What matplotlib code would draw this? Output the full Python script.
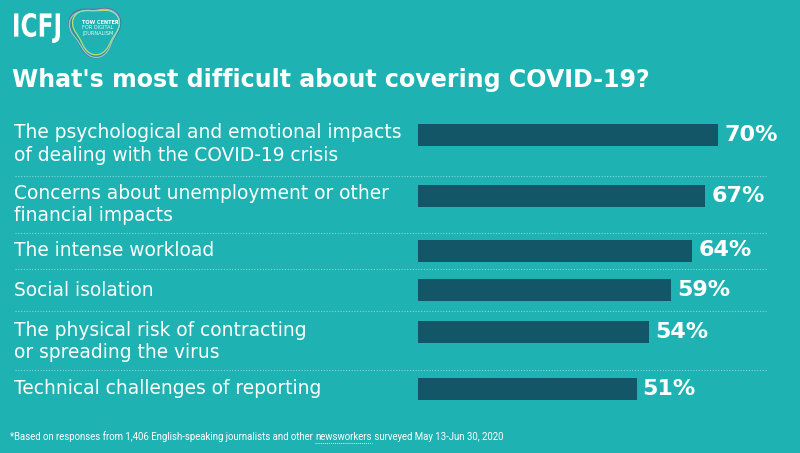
import matplotlib
matplotlib.use("Agg")
import matplotlib.pyplot as plt
from matplotlib.patches import PathPatch
from matplotlib.textpath import TextPath
from matplotlib.font_manager import FontProperties
from matplotlib.transforms import Affine2D
import numpy as np

# ---- data ----
categories = [
    "The psychological and emotional impacts\nof dealing with the COVID-19 crisis",
    "Concerns about unemployment or other\nfinancial impacts",
    "The intense workload",
    "Social isolation",
    "The physical risk of contracting\nor spreading the virus",
    "Technical challenges of reporting",
]
values = [70, 67, 64, 59, 54, 51]
value_labels = ["70%", "67%", "64%", "59%", "54%", "51%"]
title = "What's most difficult about covering COVID-19?"
footnote_pre = "*Based on responses from 1,406 English-speaking journalists and other "
footnote_link = "newsworkers"
footnote_post = " surveyed May 13-Jun 30, 2020"

# ---- layout (pixels) ----
W, H = 800, 453
BG = "#1fb2b2"
BAR = "#135668"
row_y = [135, 195.5, 250.5, 290, 332, 389]
sep_y = [176, 233, 269, 310.5, 370]
bar_left_px = 418
px_per_pct = 300 / 70.0
bar_h_px = 22

fig = plt.figure(figsize=(W / 100, H / 100), dpi=100, facecolor=BG)
base = fig.add_axes([0, 0, 1, 1])
base.set_xlim(0, W)
base.set_ylim(H, 0)
base.axis("off")
base.set_facecolor(BG)

# bar axes: x in percent, y in pixel rows
bx = fig.add_axes([bar_left_px / W, 0, (W - bar_left_px) / W, 1])
bx.set_xlim(0, (W - bar_left_px) / px_per_pct)
bx.set_ylim(H, 0)
bx.axis("off")
bx.patch.set_alpha(0)
bx.barh(row_y, values, height=bar_h_px, color=BAR, edgecolor="none")
for y, v, lab in zip(row_y, values, value_labels):
    bx.text(v + 1.4, y, lab, ha="left", va="center", color="white",
            fontsize=16, fontweight="bold", family="DejaVu Sans")

# separators
for y in sep_y:
    base.plot([15, 767], [y, y], color="#8fd8d8", lw=0.8, ls=(0, (1, 1.5)), alpha=0.9)

# labels
for y, lab in zip(row_y, categories):
    if "\n" in lab:
        base.text(14, y - 11.5, lab, ha="left", va="top", color="white",
                  fontsize=13.4, family="DejaVu Sans", linespacing=1.22)
    else:
        base.text(14, y, lab, ha="left", va="center", color="white",
                  fontsize=13.4, family="DejaVu Sans")

# title
base.text(12, 80, title, ha="left", va="center", color="white",
          fontsize=17.1, fontweight="bold", family="DejaVu Sans")

# footnote
FS = 6.9
fy = 437
t1 = base.text(10, fy, footnote_pre, ha="left", va="center", color="white",
               fontsize=FS, family="Roboto")
fig.canvas.draw()
r = fig.canvas.get_renderer()
bb = t1.get_window_extent(r)
t2 = fig.text(bb.x1 / W, 1 - fy / H, footnote_link, ha="left", va="center",
              color="white", fontsize=FS, family="Roboto")
bb2 = t2.get_window_extent(r)
fig.text(bb2.x1 / W, 1 - fy / H, footnote_post, ha="left", va="center",
         color="white", fontsize=FS, family="Roboto")
base.plot([bb2.x0, bb2.x1], [fy + 5.5, fy + 5.5], color="white", lw=0.7,
          ls=(0, (1, 1)), alpha=0.8)

# ICFJ logo (condensed, tall)
tp = TextPath((0, 0), "ICFJ", size=10,
              prop=FontProperties(family="DejaVu Sans", weight="bold"))
ext = tp.get_extents()
x0, x1, y0, y1 = 14, 60, 13, 43
sx = (x1 - x0) / ext.width
sy = (y1 - y0) / ext.height
tr = Affine2D().translate(-ext.x0, -ext.y0).scale(sx, -sy).translate(x0, y1)
base.add_patch(PathPatch(tr.transform_path(tp), facecolor="white", edgecolor="none"))

# Tow Center shield (rounded triangle pointing down)
def shield(cx, cy, s, color, lw, rot=0.0, amp=0.15):
    t = np.linspace(0, 2 * np.pi, 240)
    rr = 1 + amp * np.cos(3 * (t - np.pi / 2 + rot))
    x = cx + s * rr * np.cos(t)
    y = cy + s * rr * np.sin(t)
    base.plot(x, y, color=color, lw=lw, solid_capstyle="round")

shield(95, 30, 24, "#7a62a0", 1.3, 0.04)
shield(95.5, 30, 23, "#2a8d96", 1.1, -0.04)
shield(96, 29.5, 22, "#b9e070", 0.9, 0.0)
shield(95, 30.5, 23.5, "#86dada", 0.8, 0.08)
base.text(82, 22, "TOW CENTER", ha="left", va="center", color="white", fontsize=3.6,
          fontweight="bold", family="DejaVu Sans")
base.text(82, 27.5, "FOR DIGITAL", ha="left", va="center", color="#e8f8f8", fontsize=3.6,
          family="DejaVu Sans")
base.text(82, 33, "JOURNALISM", ha="left", va="center", color="#e8f8f8", fontsize=3.6,
          family="DejaVu Sans")

fig.savefig("out.png", dpi=100, facecolor=BG)
